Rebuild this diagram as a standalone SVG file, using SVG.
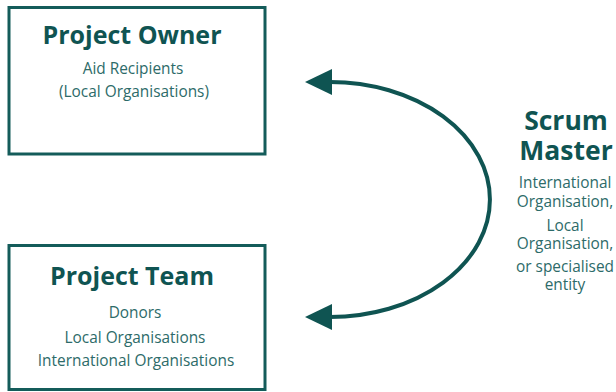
<svg xmlns="http://www.w3.org/2000/svg" width="616" height="392" viewBox="0 0 616 392">
<style>
.box{fill:#fff;stroke:#145c5a;stroke-width:3}
.h{font-family:"Open Sans",sans-serif;font-weight:700;font-size:25px;fill:#0f5452;text-anchor:middle}
.h2{font-size:26.5px}
.s{font-family:"Open Sans",sans-serif;font-size:15.4px;fill:#2d6b69;text-anchor:middle}
.c{fill:none;stroke:#0f5452;stroke-width:4}
.ah{fill:#0f5452}
</style>
<rect width="616" height="392" fill="#fff"/>
<g id="project-owner">
<rect class="box" x="9" y="7.5" width="256" height="146.5"/>
<text class="h" x="132" y="44">Project Owner</text>
<text class="s" x="133" y="74">Aid Recipients</text>
<text class="s" x="134" y="97">(Local Organisations)</text>
</g>
<g id="project-team">
<rect class="box" x="9" y="245.5" width="256" height="144"/>
<text class="h" x="132" y="285">Project Team</text>
<text class="s" x="135" y="318">Donors</text>
<text class="s" x="135" y="343">Local Organisations</text>
<text class="s" x="136" y="366">International Organisations</text>
</g>
<g id="scrum-master">
<text class="h h2" x="566" y="130">Scrum<tspan x="566" y="160">Master</tspan></text>
<text class="s" x="565" y="188">International<tspan x="565" y="207">Organisation,</tspan></text>
<text class="s" x="565" y="231">Local<tspan x="565" y="249">Organisation,</tspan></text>
<text class="s" x="565" y="272">or specialised<tspan x="565" y="290">entity</tspan></text>
</g>
<g id="connectors">
<path class="c" d="M330 82 A160 117.5 0 0 1 330 317"/>
<polygon class="ah" points="305,82 332,69 332,95"/>
<polygon class="ah" points="305,317 332,304 332,330"/>
</g>
</svg>
